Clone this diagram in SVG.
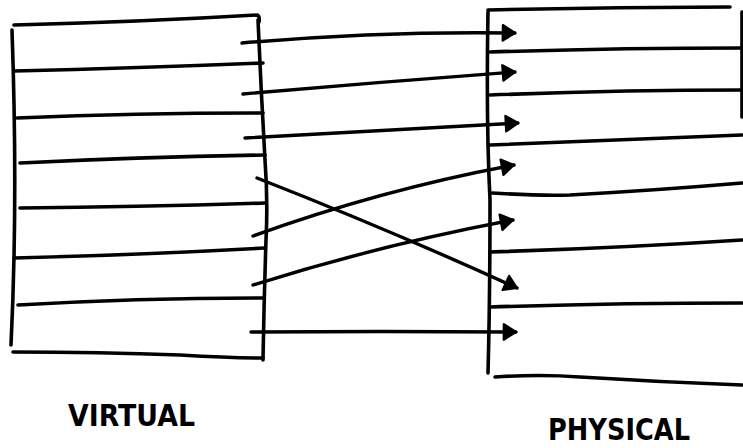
<svg xmlns="http://www.w3.org/2000/svg" width="743" height="448" viewBox="0 0 743 448">
<style>
.ln{fill:none;stroke:#000;stroke-width:3.6;stroke-linecap:round;stroke-linejoin:round}
.ar{fill:none;stroke:#000;stroke-width:3.4;stroke-linecap:round;marker-end:url(#head)}
.lbl{font-family:"DejaVu Sans","Liberation Sans",sans-serif;font-weight:bold;fill:#000}
</style>
<defs>
<marker id="head" markerUnits="userSpaceOnUse" markerWidth="20" markerHeight="20" viewBox="-14 -9 16 18" refX="0" refY="0" orient="auto">
<path d="M-11,-7 L0,0 L-11,7 Z" fill="#000" stroke="#000" stroke-width="2" stroke-linejoin="round"/>
</marker>
</defs>
<rect width="743" height="448" fill="#fff"/>
<g id="virtual">
<path class="ln" d="M14,25 Q140,22 257,15 Q260,16 259,22"/>
<path class="ln" d="M12,30 Q18,200 11,345"/>
<path class="ln" d="M258,20 Q261,90 265,160 Q268,200 266,240 Q264,300 263,360"/>
<path class="ln" d="M14,71 Q140,68 263,63"/>
<path class="ln" d="M17,118 Q140,113 263,113"/>
<path class="ln" d="M20,163 Q140,157 265,155"/>
<path class="ln" d="M20,208 Q140,207 265,203"/>
<path class="ln" d="M14,258 Q140,255 265,248"/>
<path class="ln" d="M18,305 Q140,298 263,298"/>
<path class="ln" d="M13,352 Q100,352 180,355 Q230,358 263,358"/>
<text class="lbl" x="68" y="426" font-size="30" textLength="127" lengthAdjust="spacingAndGlyphs">VIRTUAL</text>
</g>
<g id="physical">
<path class="ln" d="M488,10 Q610,7 730,7"/>
<path class="ln" d="M488,12 Q486,120 490,200 Q490,300 488,373"/>
<path class="ln" d="M742,12 L742,117"/>
<path class="ln" d="M490,52 Q620,48 742,48"/>
<path class="ln" d="M490,95 Q620,90 742,90"/>
<path class="ln" d="M490,145 Q620,140 742,135"/>
<path class="ln" d="M492,193 Q540,196 570,195 Q660,190 742,183"/>
<path class="ln" d="M490,252 Q620,248 742,240"/>
<path class="ln" d="M490,307 Q620,303 742,303"/>
<path class="ln" d="M495,377 Q540,374 580,377 Q660,382 742,385"/>
<text class="lbl" x="548" y="440" font-size="30" textLength="142" lengthAdjust="spacingAndGlyphs">PHYSICAL</text>
</g>
<g id="connectors">
<path class="ar" d="M242,43 Q380,31 515,33"/>
<path class="ar" d="M243,94 Q380,82 515,72"/>
<path class="ar" d="M245,138 Q380,130 518,123"/>
<path class="ar" d="M257,178 Q390,230 517,288"/>
<path class="ar" d="M253,236 Q380,190 514,165"/>
<path class="ar" d="M253,285 Q380,245 513,220"/>
<path class="ar" d="M251,332 Q380,331 516,332"/>
</g>
</svg>
